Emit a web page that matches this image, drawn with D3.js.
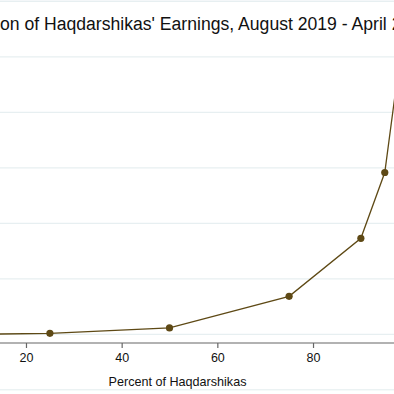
<!DOCTYPE html>
<html>
<head>
<meta charset="utf-8">
<script src="https://cdn.jsdelivr.net/npm/d3@7"></script>
<style>
  html, body { margin: 0; padding: 0; background: #fff; overflow: hidden; }
  svg { display: block; font-family: "Liberation Sans", Arial, sans-serif; }
</style>
</head>
<body>
<svg id="chart" width="394" height="394"></svg>
<script>
/* Earnings distribution by percentile: D3 line + markers */

const TITLE = "Distribution of Haqdarshikas' Earnings, August 2019 - April 2020";
const X_TITLE = 'Percent of Haqdarshikas';

const percentiles = [10, 25, 50, 75, 90, 95, 99];
const earnings = [0, 90, 570, 3425, 8650, 14575, 27600];

const xTicks = [0, 20, 40, 60, 80, 100];
const yTicks = [0, 5000, 10000, 15000, 20000, 25000, 30000];

const LINE_COLOR = '#5e4915';
const GRID_COLOR = '#e7eff1';

const svg = d3.select('#chart');

// Plot region runs past the crop on both sides
const x = d3.scaleLinear().domain([0, 100]).range([-69.7, 408.7]);
const y = d3.scaleLinear().domain([0, 30000]).range([334.3, 1.3]);

// Outer frame (only top and bottom edges show)
svg.append('rect')
  .attr('x', -100).attr('y', 1.3)
  .attr('width', 600).attr('height', 388.5)
  .attr('fill', 'none')
  .attr('stroke', GRID_COLOR)
  .attr('stroke-width', 1.2);

// Gridlines
svg.append('g')
  .selectAll('line')
  .data(yTicks)
  .join('line')
  .attr('x1', -100).attr('x2', 500)
  .attr('y1', d => y(d)).attr('y2', d => y(d))
  .attr('stroke', GRID_COLOR)
  .attr('stroke-width', 1.2);

// X axis
const xAxis = d3.axisBottom(x)
  .tickValues(xTicks)
  .tickSize(5)
  .tickPadding(5)
  .tickFormat(d3.format('d'));

const gx = svg.append('g')
  .attr('transform', 'translate(0,343)')
  .call(xAxis);
gx.select('.domain').remove();
gx.append('line')
  .attr('x1', -100).attr('x2', 500)
  .attr('stroke', '#666').attr('stroke-width', 1.2);
gx.selectAll('.tick line').attr('stroke', '#666').attr('stroke-width', 1.2);
gx.selectAll('.tick text')
  .attr('fill', '#111')
  .style('font-size', '12.5px')
  .style('font-family', '"Liberation Sans", Arial, sans-serif');

// X title
svg.append('text')
  .attr('x', 177.5)
  .attr('y', 385.5)
  .attr('text-anchor', 'middle')
  .attr('fill', '#111')
  .style('font-size', '12.6px')
  .text(X_TITLE);

// Title: cropped on the left, so place start off-canvas
const probe = svg.append('text').style('font-size', '17.6px').text('Distributi');
const offset = probe.node().getComputedTextLength();
probe.remove();
svg.append('text')
  .attr('x', -offset)
  .attr('y', 30)
  .attr('fill', '#111')
  .style('font-size', '17.6px')
  .text(TITLE);

// Line and markers
const pts = percentiles.map((p, i) => ({ p, v: earnings[i] }));

svg.append('path')
  .datum(pts)
  .attr('fill', 'none')
  .attr('stroke', LINE_COLOR)
  .attr('stroke-width', 1.3)
  .attr('d', d3.line().x(d => x(d.p)).y(d => y(d.v)));

svg.append('g')
  .selectAll('circle')
  .data(pts)
  .join('circle')
  .attr('cx', d => x(d.p))
  .attr('cy', d => y(d.v))
  .attr('r', 3.6)
  .attr('fill', LINE_COLOR);
</script>
</body>
</html>
